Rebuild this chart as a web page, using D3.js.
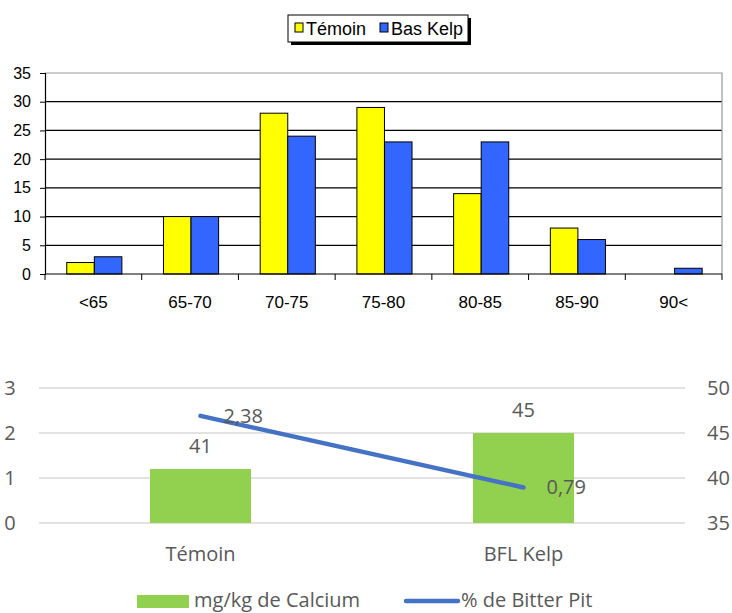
<!doctype html>
<html lang="fr">
<head>
<meta charset="UTF-8">
<title>Calibre des fruits et Bitter Pit</title>
<style>
    body { margin: 0; background: #fff; }
    .top text { font-family: "Liberation Sans", Arial, sans-serif; fill: #000; }
    .bottom text { font-family: "Open Sans", "Noto Sans", sans-serif; fill: #595959; }
</style>
</head>
<body>
<div class="chart"></div>
<script src="https://cdn.jsdelivr.net/npm/d3@7"></script>
<script>
// top chart data
const categories = ['<65', '65-70', '70-75', '75-80', '80-85', '85-90', '90<']
const temoin = [2, 10, 28, 29, 14, 8, 0]
const basKelp = [3, 10, 24, 23, 23, 6, 1]
const seriesNames = ['Témoin', 'Bas Kelp']
const topTicks = [0, 5, 10, 15, 20, 25, 30, 35]

// bottom chart data
const groups = ['Témoin', 'BFL Kelp']
const calcium = [41, 45]
const bitterPit = [2.38, 0.79]
const leftTicks = [0, 1, 2, 3]
const rightTicks = [35, 40, 45, 50]
const bottomLegend = ['mg/kg de Calcium', '% de Bitter Pit']

const colors = { temoin: '#ffff00', kelp: '#3366ff', calcium: '#92d050', pit: '#4472c4' }
const fr = d3.formatLocale({ decimal: ',', thousands: ' ', grouping: [3], currency: ['', ' €'] })

const svg = d3.select('.chart').append('svg')
    .attr('width', 732)
    .attr('height', 613)

/* ---------- top: grouped bars ---------- */
const topG = svg.append('g').attr('class', 'top')
const t = { left: 45, right: 722, top: 73, bottom: 274 }

const x0 = d3.scaleBand().domain(categories).range([t.left, t.right])
const bw = x0.bandwidth()
const x1 = d3.scaleBand().domain(seriesNames).range([bw * 0.225, bw * 0.795])
const yTop = d3.scaleLinear().domain([0, 35]).range([t.bottom, t.top])

// grid
topG.append('g').selectAll('line')
    .data(topTicks.filter(d => d > 0 && d < 35))
    .enter().append('line')
    .attr('x1', t.left).attr('x2', t.right)
    .attr('y1', d => yTop(d)).attr('y2', d => yTop(d))
    .attr('stroke', '#000').attr('stroke-width', 1.2)
// plot border (top, right)
topG.append('path')
    .attr('d', `M${t.left},${yTop(35)}H${t.right}V${t.bottom}`)
    .attr('fill', 'none').attr('stroke', '#999').attr('stroke-width', 1.2)

const rows = categories.map((c, i) => ({ cat: c, values: [temoin[i], basKelp[i]] }))
const grp = topG.append('g').selectAll('g')
    .data(rows)
    .enter().append('g')
    .attr('transform', d => 'translate(' + x0(d.cat) + ',0)')
grp.selectAll('rect')
    .data(d => d.values.map((v, j) => ({ name: seriesNames[j], v: v })).filter(e => e.v > 0))
    .enter().append('rect')
    .attr('x', d => x1(d.name))
    .attr('width', x1.bandwidth())
    .attr('y', d => yTop(d.v))
    .attr('height', d => yTop(0) - yTop(d.v))
    .attr('fill', d => d.name === 'Témoin' ? colors.temoin : colors.kelp)
    .attr('stroke', '#000').attr('stroke-width', 1)

// y axis
const yAxisTop = topG.append('g')
    .attr('transform', 'translate(' + t.left + ',0)')
    .call(d3.axisLeft(yTop).tickValues(topTicks).tickSize(5).tickPadding(9))
yAxisTop.select('.domain').attr('stroke', '#000').attr('stroke-width', 1.2)
yAxisTop.selectAll('line').attr('stroke', '#000')
yAxisTop.selectAll('text').attr('font-size', 16).attr('fill', '#000')
    .attr('font-family', '"Liberation Sans", Arial, sans-serif')

// x axis: ticks between categories
const xAxisTop = topG.append('g').attr('transform', 'translate(0,' + t.bottom + ')')
xAxisTop.append('line')
    .attr('x1', t.left).attr('x2', t.right)
    .attr('stroke', '#000').attr('stroke-width', 1.2)
xAxisTop.selectAll('.tk')
    .data(categories.map(c => x0(c)).concat([t.right]))
    .enter().append('line')
    .attr('class', 'tk')
    .attr('x1', d => d).attr('x2', d => d)
    .attr('y1', 0).attr('y2', 6)
    .attr('stroke', '#000')
xAxisTop.selectAll('text')
    .data(categories)
    .enter().append('text')
    .attr('x', d => x0(d) + bw / 2)
    .attr('y', 34)
    .attr('text-anchor', 'middle')
    .attr('font-size', 17)
    .text(d => d)

// legend
const lg = topG.append('g').attr('transform', 'translate(288,15)')
lg.append('rect').attr('x', 3).attr('y', 3).attr('width', 180).attr('height', 27).attr('fill', '#000')
lg.append('rect').attr('width', 180).attr('height', 27).attr('fill', '#fff')
    .attr('stroke', '#000').attr('stroke-width', 1)
const lgItems = [
    { name: seriesNames[0], color: colors.temoin, x: 7, tx: 18 },
    { name: seriesNames[1], color: colors.kelp, x: 92, tx: 103 }
]
lg.selectAll('.sw').data(lgItems).enter().append('rect')
    .attr('class', 'sw')
    .attr('x', d => d.x).attr('y', 8)
    .attr('width', 8).attr('height', 9)
    .attr('fill', d => d.color).attr('stroke', '#000')
lg.selectAll('text').data(lgItems).enter().append('text')
    .attr('x', d => d.tx).attr('y', 20)
    .attr('font-size', 18)
    .text(d => d.name)

/* ---------- bottom: combo bars + line ---------- */
const bot = svg.append('g').attr('class', 'bottom')
const b = { left: 39, right: 685, top: 388, bottom: 523 }

const xb = d3.scaleBand().domain(groups).range([b.left, b.right])
const yLeft = d3.scaleLinear().domain([0, 3]).range([b.bottom, b.top])
const yRight = d3.scaleLinear().domain([35, 50]).range([b.bottom, b.top])
const barW = 101

bot.append('g').selectAll('line')
    .data(leftTicks)
    .enter().append('line')
    .attr('x1', b.left).attr('x2', b.right)
    .attr('y1', d => yLeft(d)).attr('y2', d => yLeft(d))
    .attr('stroke', '#d9d9d9').attr('stroke-width', 1.5)

const bars = groups.map((g, i) => ({ g: g, v: calcium[i] }))
bot.append('g').selectAll('rect')
    .data(bars)
    .enter().append('rect')
    .attr('x', d => xb(d.g) + xb.bandwidth() / 2 - barW / 2)
    .attr('width', barW)
    .attr('y', d => yRight(d.v))
    .attr('height', d => yRight(35) - yRight(d.v))
    .attr('fill', colors.calcium)

bot.append('g').selectAll('text')
    .data(bars)
    .enter().append('text')
    .attr('x', d => xb(d.g) + xb.bandwidth() / 2)
    .attr('y', d => yRight(d.v) - 16)
    .attr('text-anchor', 'middle')
    .attr('font-size', 20)
    .text(d => d.v)

const pts = groups.map((g, i) => ({ g: g, v: bitterPit[i] }))
const line = d3.line()
    .x(d => xb(d.g) + xb.bandwidth() / 2)
    .y(d => yLeft(d.v))
bot.append('path')
    .datum(pts)
    .attr('d', line)
    .attr('fill', 'none')
    .attr('stroke', colors.pit)
    .attr('stroke-width', 4.5)
    .attr('stroke-linecap', 'round')

bot.append('g').selectAll('text')
    .data(pts)
    .enter().append('text')
    .attr('x', d => xb(d.g) + xb.bandwidth() / 2 + 23)
    .attr('y', d => yLeft(d.v) + 7)
    .attr('font-size', 20)
    .text(d => fr.format('.2f')(d.v))

// axis labels
bot.append('g').selectAll('text')
    .data(leftTicks)
    .enter().append('text')
    .attr('x', 10).attr('y', d => yLeft(d) + 7)
    .attr('text-anchor', 'middle')
    .attr('font-size', 20)
    .text(d => d)
bot.append('g').selectAll('text')
    .data(rightTicks)
    .enter().append('text')
    .attr('x', 707).attr('y', d => yRight(d) + 7)
    .attr('font-size', 20)
    .text(d => d)
bot.append('g').selectAll('text')
    .data(groups)
    .enter().append('text')
    .attr('x', d => xb(d) + xb.bandwidth() / 2)
    .attr('y', 561)
    .attr('text-anchor', 'middle')
    .attr('font-size', 20)
    .text(d => d)

// legend
const bl = bot.append('g')
bl.append('rect').attr('x', 137).attr('y', 595).attr('width', 52).attr('height', 13)
    .attr('fill', colors.calcium)
bl.append('text').attr('x', 194).attr('y', 607).attr('font-size', 20).text(bottomLegend[0])
bl.append('line').attr('x1', 406).attr('x2', 458).attr('y1', 601).attr('y2', 601)
    .attr('stroke', colors.pit).attr('stroke-width', 4.5).attr('stroke-linecap', 'round')
bl.append('text').attr('x', 461).attr('y', 607).attr('font-size', 20).text(bottomLegend[1])
</script>
</body>
</html>
